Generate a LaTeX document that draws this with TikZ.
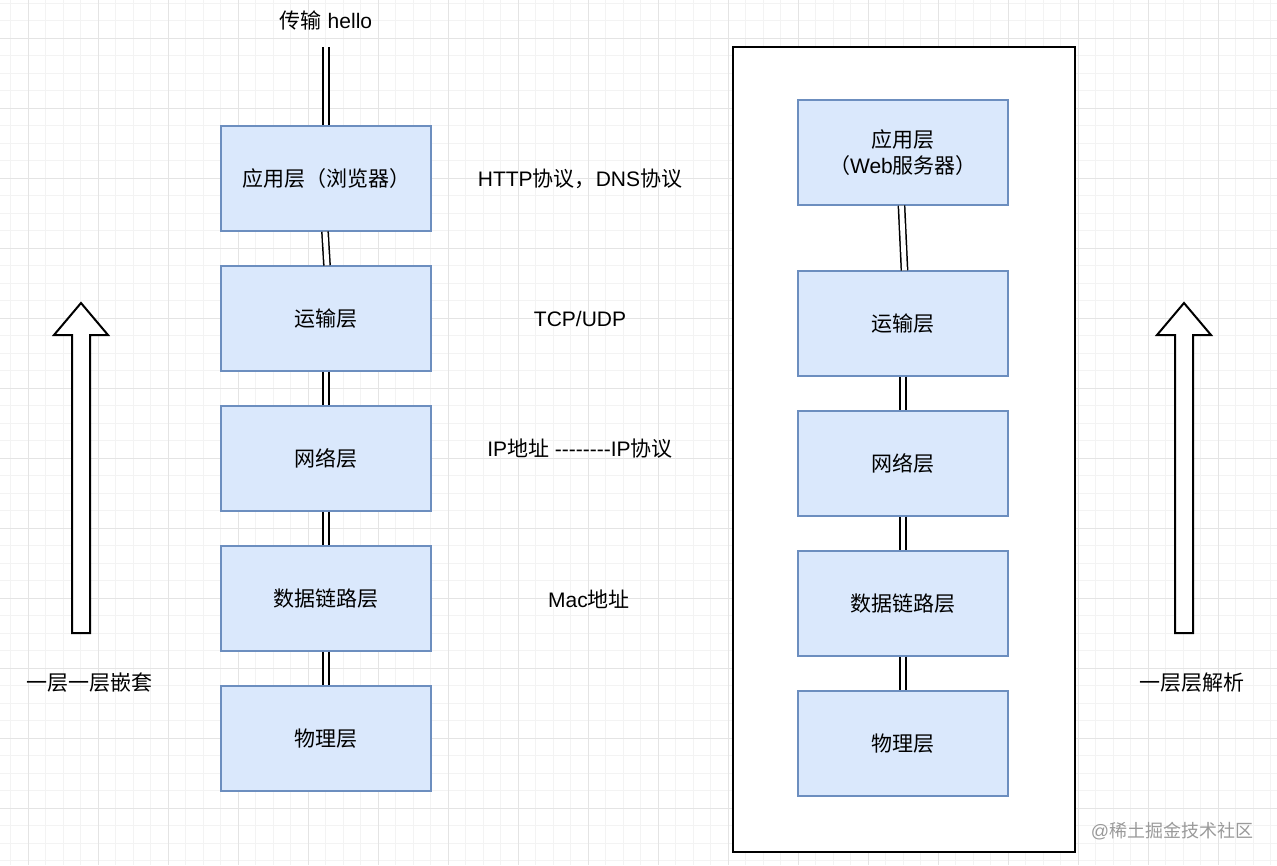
\documentclass[tikz,border=0pt]{standalone}
\usepackage{fontspec}
\setmainfont{Liberation Sans}
\newfontfamily\cjk{Noto Sans CJK SC}
\definecolor{boxfill}{HTML}{DAE8FC}
\definecolor{boxline}{HTML}{6C8EBF}
\definecolor{gridminor}{HTML}{F3F3F3}
\definecolor{gridmajor}{HTML}{E4E4E4}
\definecolor{wm}{HTML}{9A9A9A}
\tikzset{
  layer/.style={draw=boxline, fill=boxfill, line width=1.2pt, minimum width=210pt, minimum height=105pt, inner sep=0pt, align=center, font=\fontsize{21}{26}\selectfont},
  link/.style={draw=black, line width=1.5pt, double=white, double distance=4.8pt},
  label/.style={font=\fontsize{21}{26}\selectfont, inner sep=0pt, align=center},
  hollow/.style={draw=black, line width=2pt, fill=white, line join=miter},
}
\begin{document}
\begin{tikzpicture}[x=1pt,y=-1pt]
\useasboundingbox (0,0) rectangle (1277,865);
\fill[white] (0,0) rectangle (1277,865);
% grid
\foreach \i in {0,...,72} {\draw[gridminor, line width=0.8pt] ({10.5+17.5*\i},0) -- ({10.5+17.5*\i},865);}
\foreach \i in {0,...,49} {\draw[gridminor, line width=0.8pt] (0,{3+17.5*\i}) -- (1277,{3+17.5*\i});}
\foreach \i in {0,...,17} {\draw[gridmajor, line width=0.9pt] ({28+70*\i},0) -- ({28+70*\i},865);}
\foreach \i in {0,...,12} {\draw[gridmajor, line width=0.9pt] (0,{38+70*\i}) -- (1277,{38+70*\i});}

% right container
\draw[black, line width=2pt, fill=white] (733,47) rectangle (1075,852);

% left stack
\node[layer] (l1) at (326,178.5) {{\cjk 应用层（浏览器）}};
\node[layer] (l2) at (326,318.5) {{\cjk 运输层}};
\node[layer] (l3) at (326,458.5) {{\cjk 网络层}};
\node[layer] (l4) at (326,598.5) {{\cjk 数据链路层}};
\node[layer] (l5) at (326,738.5) {{\cjk 物理层}};
\coordinate (ltop) at (326,47);

% right stack
\node[layer] (r1) at (903,152.5) {{\cjk 应用层}\\{\cjk （}Web{\cjk 服务器）}};
\node[layer] (r2) at (903,323.5) {{\cjk 运输层}};
\node[layer] (r3) at (903,463.5) {{\cjk 网络层}};
\node[layer] (r4) at (903,603.5) {{\cjk 数据链路层}};
\node[layer] (r5) at (903,743.5) {{\cjk 物理层}};

% connectors
\draw[link] (ltop) -- (l1.north);
\draw[link] ([xshift=-1pt]l1.south) -- ([xshift=1pt]l2.north);
\draw[link] (l2.south) -- (l3.north);
\draw[link] (l3.south) -- (l4.north);
\draw[link] (l4.south) -- (l5.north);
\draw[link] ([xshift=-1.5pt]r1.south) -- ([xshift=1.5pt]r2.north);
\draw[link] (r2.south) -- (r3.north);
\draw[link] (r3.south) -- (r4.north);
\draw[link] (r4.south) -- (r5.north);

% labels
\node[label] (hello) at (326,20) {{\cjk 传输} hello};
\node[label] (t1) at (580,179) {HTTP{\cjk 协议，}DNS{\cjk 协议}};
\node[label] (t2) at (580,319) {TCP/UDP};
\node[label] (t3) at (580,449) {IP{\cjk 地址} -{}-{}-{}-{}-{}-{}-{}-IP{\cjk 协议}};
\node[label] (t4) at (589,599) {Mac{\cjk 地址}};
\node[label] (lt) at (90,683) {{\cjk 一层一层嵌套}};
\node[label] (rt) at (1192,683) {{\cjk 一层层解析}};
\node[font=\fontsize{18}{22}\selectfont, text=wm, inner sep=0pt] (wmk) at (1172,831) {@{\cjk 稀土掘金技术社区}};

% hollow arrows
\draw[hollow] (72,633) -- (72,335) -- (54,335) -- (81,303) -- (108,335) -- (90,335) -- (90,633) -- cycle;
\draw[hollow] (1175,633) -- (1175,335) -- (1157,335) -- (1184,303) -- (1211,335) -- (1193,335) -- (1193,633) -- cycle;
\end{tikzpicture}
\end{document}
